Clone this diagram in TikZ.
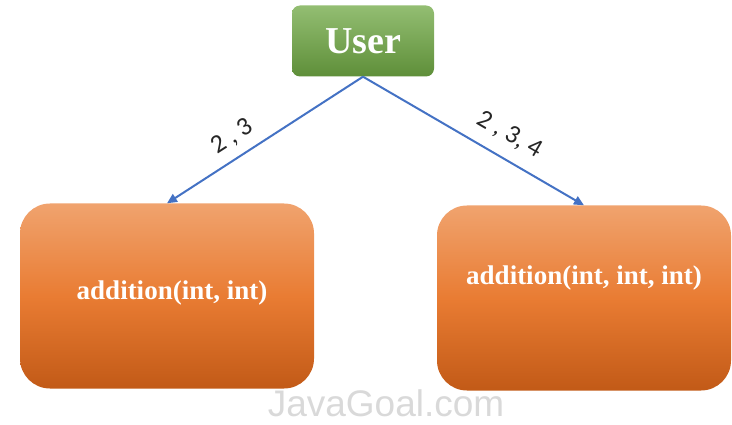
\documentclass[tikz,border=0pt]{standalone}
\usepackage{fontspec}
\setmainfont{Liberation Serif}
\newfontfamily\labelfont{Carlito}
\newfontfamily\markfont{Liberation Sans}
\usetikzlibrary{arrows.meta}
\definecolor{usergreen}{HTML}{6FA843}
\definecolor{orangetop}{HTML}{F0A36E}
\definecolor{orangemid}{HTML}{E97C33}
\definecolor{orangebot}{HTML}{C25A17}
\definecolor{arrowblue}{HTML}{4472C4}
\tikzset{
	userbox/.style={rounded corners=8pt, top color=usergreen!75!white, bottom color=usergreen!85!black,
		minimum width=142pt, minimum height=71pt, text=white, font=\bfseries\fontsize{38}{38}\selectfont},
	methodbox/.style={rounded corners=30pt, top color=orangetop, bottom color=orangebot, middle color=orangemid,
		minimum width=294pt, minimum height=185pt},
	methodtext/.style={text=white, font=\bfseries\fontsize{27}{27}\selectfont},
	call/.style={arrowblue, line width=2pt, -{Triangle[length=10pt,width=9pt]}},
	args/.style={text=black!85, font=\labelfont\fontsize{26}{26}\selectfont, sloped}
}
\begin{document}
\begin{tikzpicture}[x=1pt,y=-1pt]
			\useasboundingbox (0,0) rectangle (732,425);
			\node[userbox] (user) at (363,41) {User};
			\node[methodbox] (lbox) at (167,296) {};
			\node[methodbox] (rbox) at (584,298) {};
			\node[methodtext] (ltext) at (172,293) {addition(int, int)};
			\node[methodtext] (rtext) at (584,278) {addition(int, int, int)};
			\draw[call] (user.south) -- (lbox.north) node[args,pos=0.61,above=6pt] {2 , 3};
			\draw[call] (user.south) -- (rbox.north) node[args,pos=0.61,above=9pt] {2 , 3, 4};
			\node[text=gray!30, font=\markfont\fontsize{37}{37}\selectfont] (mark) at (386,403) {JavaGoal.com};
		\end{tikzpicture}
\end{document}
